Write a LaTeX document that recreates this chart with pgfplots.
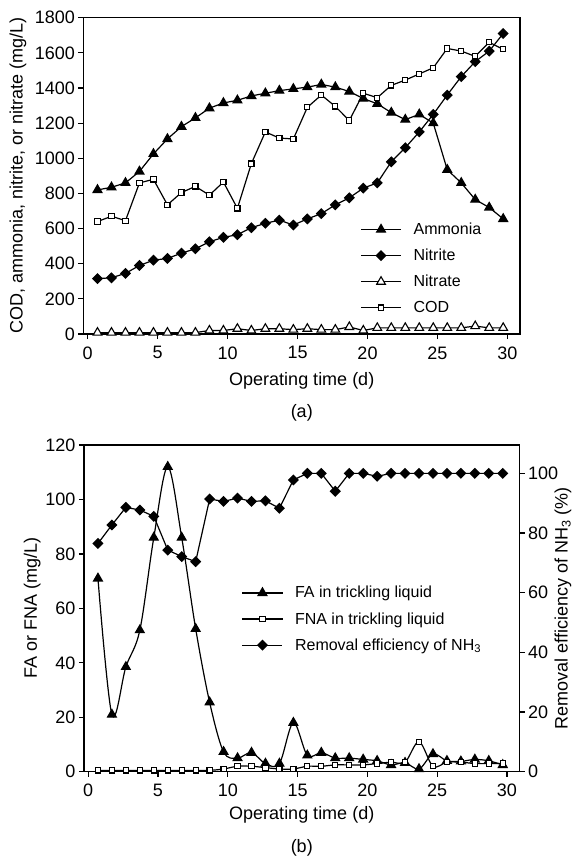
\documentclass[border=0pt]{standalone}
\usepackage{fontspec}
\setmainfont{Liberation Sans}
\usepackage{pgfplots}
\pgfplotsset{compat=1.18}
\usepackage{pgfplotstable}

\pgfplotstableread{
d amm nit nat cod
0.7 820 315 8 640
1.7 835 320 8 670
2.7 860 345 8 645
3.7 925 390 8 860
4.7 1025 420 8 880
5.7 1110 430 8 735
6.7 1180 460 8 805
7.7 1230 485 8 840
8.7 1285 525 20 790
9.7 1315 550 20 865
10.7 1330 565 30 715
11.7 1355 605 20 970
12.7 1370 630 30 1150
13.7 1385 648 30 1115
14.7 1395 620 25 1110
15.7 1405 655 30 1290
16.7 1420 685 25 1360
17.7 1405 735 25 1295
18.7 1380 775 40 1215
19.7 1340 830 20 1370
20.7 1310 860 35 1345
21.7 1260 980 35 1415
22.7 1220 1060 35 1445
23.7 1250 1150 35 1480
24.7 1200 1250 35 1515
25.7 935 1360 35 1625
26.7 860 1465 35 1610
27.7 765 1550 45 1580
28.7 720 1610 35 1660
29.7 655 1710 35 1620
}\topdata

\pgfplotstableread{
d fa fna rem
0.7 71 0.5 76.5
1.7 21 0.5 82.7
2.7 38.5 0.5 88.6
3.7 52 0.5 87.7
4.7 86 0.5 85.6
5.7 112 0.5 74.3
6.7 86 0.5 72.1
7.7 52.5 0.5 70.4
8.7 25.5 0.5 91.4
9.7 7.3 1 90.6
10.7 5 2 91.7
11.7 7 2 90.6
12.7 3 1.5 90.8
13.7 3 1 88.3
14.7 18 1 97.8
15.7 6 2 100
16.7 7 2 100
17.7 5 2.5 94
18.7 5 2.5 100
19.7 4.5 2.5 100
20.7 4 3 99
21.7 2.5 3.5 100
22.7 3.3 3.5 100
23.7 1 11 100
24.7 6.5 2 100
25.7 4 3.5 100
26.7 3.8 3.5 100
27.7 4.5 3 100
28.7 4 3 100
29.7 2.5 3 100
}\botdata

\pgfplotsset{
  every axis/.append style={
    scale only axis,
    clip=false,
    axis line style={line width=1.5pt},
    tick style={line width=1.2pt, black},
    major tick length=5pt,
    tick align=outside,
    ticklabel style={font=\fontsize{18}{20}\selectfont},
    label style={font=\fontsize{18}{20}\selectfont},
    /pgf/number format/assume math mode=true,
    /pgf/number format/1000 sep={},
    xmin=-0.3, xmax=30.9,
    xtick={0,5,...,30},
    legend cell align=left,
    legend image code/.code={\draw[mark repeat=2,mark phase=2,#1] plot coordinates {(0pt,0pt) (20pt,0pt) (40pt,0pt)};},
    legend style={draw=none, fill=none, font=\fontsize{16}{18}\selectfont, row sep=9pt, inner sep=0pt,
      /tikz/column 1/.style={column sep=10pt}},
  },
  ser/.style={black, line width=1.2pt},
}

\begin{document}
\begin{tikzpicture}
\path[use as bounding box] (0pt,0pt) rectangle (576pt,-857pt);

% ---------- (a) ----------
\begin{axis}[
  at={(83.5pt,-334pt)}, anchor=south west,
  width=436.5pt, height=316.3pt,
  ymin=0, ymax=1800, ytick={0,200,...,1800},
  tick pos=left,
  xticklabel style={yshift=-4pt},
  xlabel={Operating time (d)},
  xlabel style={at={(axis description cs:0.5,-0.149)}, anchor=center},
  ylabel={COD, ammonia, nitrite, or nitrate (mg/L)},
  ylabel style={at={(axis description cs:-0.150,0.5)}, anchor=center},
  legend style={at={(axis description cs:0.634,0.358)}, anchor=north west},
]
\addplot[ser, mark=triangle*, mark size=5pt] table[x=d,y=amm] {\topdata};
\addlegendentry{Ammonia}
\addplot[ser, mark=square*, mark size=3.3pt, mark options={rotate=45}] table[x=d,y=nit] {\topdata};
\addlegendentry{Nitrite}
\addplot[ser, mark=triangle*, mark size=5pt, mark options={fill=white, line width=1.1pt}] table[x=d,y=nat] {\topdata};
\addlegendentry{Nitrate}
\addplot[ser, mark=square*, mark size=2.6pt, mark options={fill=white, line width=1.1pt}] table[x=d,y=cod] {\topdata};
\addlegendentry{COD}
\node[font=\fontsize{18}{20}\selectfont] at (axis description cs:0.5,-0.250) {(a)};
\end{axis}

% ---------- (b) ----------
\begin{axis}[
  at={(84pt,-771.7pt)}, anchor=south west,
  width=435.5pt, height=326.7pt,
  ymin=0, ymax=120, ytick={0,20,...,120},
  tick pos=left,
  xticklabel style={yshift=-4pt},
  xlabel={Operating time (d)},
  xlabel style={at={(axis description cs:0.5,-0.133)}, anchor=center},
  ylabel={FA or FNA (mg/L)},
  ylabel style={at={(axis description cs:-0.119,0.5)}, anchor=center},
  legend style={at={(axis description cs:0.362,0.574)}, anchor=north west},
]
\addplot[ser, smooth, tension=0.55, mark=triangle*, mark size=5pt] table[x=d,y=fa] {\botdata};
\addlegendentry{FA in trickling liquid}
\addplot[ser, smooth, tension=0.55, mark=square*, mark size=2.6pt, mark options={fill=white, line width=1.1pt}] table[x=d,y=fna] {\botdata};
\addlegendentry{FNA in trickling liquid}
\addlegendimage{ser, mark=square*, mark size=3.3pt, mark options={rotate=45}}
\addlegendentry{Removal efficiency of NH\textsubscript{3}}
\node[font=\fontsize{18}{20}\selectfont] at (axis description cs:0.5,-0.234) {(b)};
\end{axis}
\begin{axis}[
  at={(84pt,-771.7pt)}, anchor=south west,
  width=435.5pt, height=326.7pt,
  ymin=0, ymax=109.5, ytick={0,20,...,100},
  axis x line=none,
  axis y line*=right,
  ylabel={Removal efficiency of NH\textsubscript{3} (\%)},
  ylabel style={at={(axis description cs:1.10,0.5)}, anchor=center},
]
\addplot[ser, mark=square*, mark size=3.3pt, mark options={rotate=45}] table[x=d,y=rem] {\botdata};
\end{axis}
\end{tikzpicture}
\end{document}
